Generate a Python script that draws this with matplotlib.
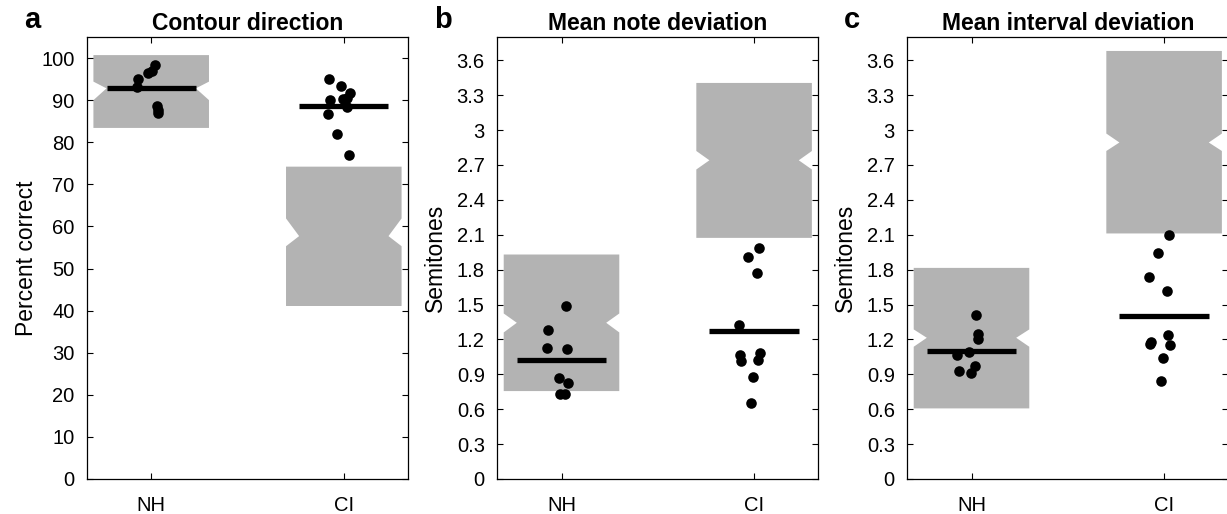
import numpy as np
import matplotlib
matplotlib.use('Agg')
import matplotlib.pyplot as plt

plt.rcParams['font.family'] = ['Liberation Sans', 'DejaVu Sans']

groups = ['NH', 'CI']

# panel a: contour direction (percent correct)
a_nh_y = [98.4, 97.0, 96.5, 95.0, 93.1, 88.6, 86.9, 87.7]
a_nh_x = [1.022, 1.003, 0.985, 0.933, 0.925, 1.029, 1.037, 1.033]
a_ci_y = [95.0, 93.4, 91.8, 90.0, 90.2, 90.5, 88.4, 86.7, 81.9, 77.0]
a_ci_x = [1.924, 1.986, 2.033, 1.929, 1.996, 2.017, 2.017, 1.918, 1.965, 2.028]
# notched boxes: bottom, notch low, centre, notch high, top
a_box_nh = [83.4, 90.0, 92.8, 94.4, 100.7]
a_box_ci = [41.1, 55.3, 57.7, 61.9, 74.2]

# panel b: mean note deviation (semitones)
b_nh_y = [1.489, 1.280, 1.128, 1.114, 0.865, 0.827, 0.730, 0.730]
b_nh_x = [1.024, 0.932, 0.923, 1.030, 0.987, 1.035, 0.993, 1.018]
b_ci_y = [1.990, 1.905, 1.773, 1.323, 1.065, 1.014, 1.085, 1.022, 0.874, 0.655]
b_ci_x = [2.026, 1.968, 2.014, 1.922, 1.927, 1.933, 2.031, 2.021, 1.995, 1.986]
b_box_nh = [0.756, 1.260, 1.343, 1.423, 1.930]
b_box_ci = [2.073, 2.661, 2.740, 2.820, 3.405]

# panel c: mean interval deviation (semitones)
c_nh_y = [1.409, 1.243, 1.203, 1.094, 1.065, 0.971, 0.928, 0.908]
c_nh_x = [1.022, 1.033, 1.036, 0.987, 0.923, 1.018, 0.935, 0.996]
c_ci_y = [2.102, 1.939, 1.738, 1.615, 1.237, 1.157, 1.151, 1.042, 0.842, 1.177]
c_ci_x = [2.028, 1.968, 1.922, 2.014, 2.019, 1.927, 2.031, 1.995, 1.986, 1.930]
c_box_nh = [0.607, 1.137, 1.214, 1.286, 1.815]
c_box_ci = [2.111, 2.820, 2.893, 2.970, 3.680]

panels = [
    dict(letter='a', title='Contour direction', ylabel='Percent correct',
         ylim=(0, 105), yticks=np.arange(0, 101, 10), labelpad=2,
         dots=[(a_nh_x, a_nh_y), (a_ci_x, a_ci_y)], boxes=[a_box_nh, a_box_ci]),
    dict(letter='b', title='Mean note deviation', ylabel='Semitones',
         ylim=(0, 3.8), yticks=np.round(np.arange(0, 3.61, 0.3), 1), labelpad=7,
         dots=[(b_nh_x, b_nh_y), (b_ci_x, b_ci_y)], boxes=[b_box_nh, b_box_ci]),
    dict(letter='c', title='Mean interval deviation', ylabel='Semitones',
         ylim=(0, 3.8), yticks=np.round(np.arange(0, 3.61, 0.3), 1), labelpad=7,
         dots=[(c_nh_x, c_nh_y), (c_ci_x, c_ci_y)], boxes=[c_box_nh, c_box_ci]),
]

W, H = 1227, 514
fig = plt.figure(figsize=(W / 100, H / 100), dpi=100)
lefts = [87, 497.3, 907.3]
box_half = 0.3
notch_d = 0.068
line_half = 0.232

for p, left in zip(panels, lefts):
    ax = fig.add_axes([left / W, 1 - 479 / H, 321 / W, 442 / H])
    for i, (box, (xs, ys)) in enumerate(zip(p['boxes'], p['dots'])):
        c = i + 1
        lo, n_lo, mid, n_hi, hi = box
        x0, x1 = c - box_half, c + box_half
        vx = [x0, x0, x0 + notch_d, x0, x0, x1, x1, x1 - notch_d, x1, x1]
        vy = [lo, n_lo, mid, n_hi, hi, hi, n_hi, mid, n_lo, lo]
        ax.fill(vx, vy, color='#b3b3b3', lw=0, zorder=1)
        m = np.mean(ys)
        ax.plot([c - line_half, c + line_half], [m, m], color='black',
                lw=3.8, solid_capstyle='butt', zorder=3)
        ax.scatter(xs, ys, s=58, color='black', lw=0, zorder=4)
    ax.set_xlim(2 / 3, 7 / 3)
    ax.set_ylim(*p['ylim'])
    ax.set_xticks([1, 2])
    ax.set_xticklabels(groups)
    ax.set_yticks(p['yticks'])
    ax.set_yticklabels(['%g' % v for v in p['yticks']])
    ax.tick_params(direction='in', top=True, right=True, length=4, width=0.8,
                   labelsize=14.5, pad=9)
    ax.tick_params(axis='x', pad=12)
    for s in ax.spines.values():
        s.set_linewidth(0.9)
    ax.set_ylabel(p['ylabel'], fontsize=16.5, labelpad=p['labelpad'])
    ax.set_title(p['title'], fontsize=16.5, fontweight='bold', pad=5)
    fig.text((left - 63) / W, 1 - 28 / H, p['letter'], fontsize=21,
             fontweight='bold', ha='left', va='baseline')

fig.savefig('out.png', dpi=100)
